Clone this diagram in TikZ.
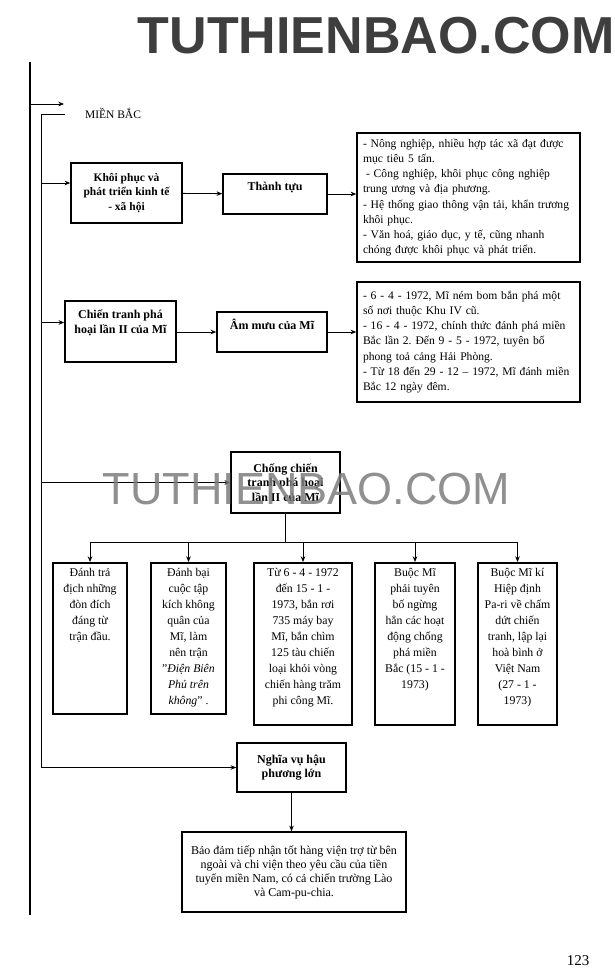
\documentclass[tikz,border=0pt]{standalone}
\usepackage{fontspec}
\setmainfont{Liberation Serif}
\newfontfamily\wmfont{Liberation Sans}
\usetikzlibrary{arrows.meta,positioning,calc}
\frenchspacing
\definecolor{wmgray}{RGB}{125,125,125}
\definecolor{wmdark}{RGB}{62,62,62}
\tikzset{
  box/.style={draw, rectangle, line width=1.5pt, fill=white, align=center, inner sep=2pt},
  hd/.style={box, font=\fontsize{12}{14.5}\selectfont\bfseries},
  txt/.style={box, font=\fontsize{11.6}{15.2}\selectfont, align=left, inner xsep=6pt},
  col/.style={box, inner sep=0pt, font=\fontsize{11.8}{15.9}\selectfont},
  arr/.style={-{Stealth[length=2mm,width=1.6mm]}, line width=0.8pt},
  ln/.style={line width=0.8pt},
  spine/.style={line width=2.4pt},
  wm/.style={font=\wmfont\fontsize{45}{45}\selectfont, text=wmgray, inner sep=0pt},
}

\begin{document}
\begin{tikzpicture}[x=1pt,y=-1pt]
\fill[white] (0,0) rectangle (615,980);
\useasboundingbox (0,0) rectangle (615,980);
\node[inner sep=0pt, text=wmdark, font=\wmfont\bfseries\fontsize{52}{52}\selectfont] (site) at (376,36) {TUTHIENBAO.COM};
\coordinate (ltop) at (30,62);
\coordinate (lbot) at (30,915);
\coordinate (mbarr) at (64,104);
\coordinate (stop) at (65,114);
\coordinate (sp) at (41,114);
\node[font=\fontsize{11.5}{13}\selectfont, inner sep=0pt] (mb) at (113,113) {MIỀN BẮC};
\node[hd, font=\fontsize{11.5}{14.5}\selectfont\bfseries, minimum width=111pt, minimum height=60pt] (kp) at (126.5,193) {Khôi phục và\\phát triển kinh tế\\- xã hội};
\node[hd, text depth=16pt, minimum width=104pt, minimum height=40pt] (tt) at (275,194) {Thành tựu};
\node[txt, text width=211pt, minimum height=129pt] (kq1) at (468.5,197.5) {- Nông nghiệp, nhiều hợp tác xã đạt được\\mục tiêu 5 tấn.\\\hspace*{3pt}- Công nghiệp, khôi phục công nghiệp\\trung ương và địa phương.\\- Hệ thống giao thông vận tải, khẩn trương\\khôi phục.\\- Văn hoá, giáo dục, y tế, cũng nhanh\\chóng được khôi phục và phát triển.};
\node[hd, text depth=20pt, minimum width=111pt, minimum height=61pt] (ct) at (120.5,331.5) {Chiến tranh phá\\hoại lần II của Mĩ};
\node[hd, text depth=15pt, minimum width=110pt, minimum height=40pt] (am) at (272,332) {Âm mưu của Mĩ};
\node[txt, text width=211pt, minimum height=120pt] (kq2) at (468.5,342) {- 6 - 4 - 1972, Mĩ ném bom bắn phá một\\số nơi thuộc Khu IV cũ.\\- 16 - 4 - 1972, chính thức đánh phá miền\\Bắc lần 2. Đến 9 - 5 - 1972, tuyên bố\\phong toả cảng Hải Phòng.\\- Từ 18 đến 29 - 12 – 1972, Mĩ đánh miền\\Bắc 12 ngày đêm.};
\node[hd, minimum width=109pt, minimum height=61pt] (cc) at (285.5,482.5) {Chống chiến\\tranh phá hoại\\lần II của Mĩ};
\foreach \n/\x/\w/\h/\t in {1/90/74/151/{Đánh trả\\địch những\\đòn đích\\đáng từ\\trận đầu.}, 2/188.5/75/151/{Đánh bại\\cuộc tập\\kích không\\quân của\\Mĩ, làm\\nên trận\\"\textit{Điện Biên}\\\textit{Phủ trên}\\\textit{không}" .}, 3/303/98/162/{Từ 6 - 4 - 1972\\đến 15 - 1 -\\1973, bắn rơi\\735 máy bay\\Mĩ, bắn chìm\\125 tàu chiến\\loại khỏi vòng\\chiến hàng trăm\\phi công Mĩ.}, 4/415/80/162/{Buộc Mĩ\\phải tuyên\\bố ngừng\\hẳn các hoạt\\động chống\\phá miền\\Bắc (15 - 1 -\\1973)}, 5/517.5/79/162/{Buộc Mĩ kí\\Hiệp định\\Pa-ri về chấm\\dứt chiến\\tranh, lập lại\\hoà bình ở\\Việt Nam\\(27 - 1 -\\1973)}} {
  \node[col, anchor=north] (c\n) at (\x,562) {\parbox[c][\h pt][t]{\w pt}{\centering\vspace*{6pt}\t}};
}
\node[hd, minimum width=109pt, minimum height=49pt] (nv) at (291.5,767.5) {Nghĩa vụ hậu\\phương lớn};
\node[box, font=\fontsize{12}{14}\selectfont, minimum width=224pt, minimum height=80pt] (bd) at (294,872) {Bảo đảm tiếp nhận tốt hàng viện trợ từ bên\\ngoài và chi viện theo yêu cầu của tiền\\tuyến miền Nam, có cả chiến trường Lào\\và Cam-pu-chia.};
\node[font=\fontsize{15}{15}\selectfont, inner sep=0pt] (pg) at (578,961) {123};
\draw[spine] (ltop) -- (lbot);
\draw[arr] (mbarr -| ltop) -- (mbarr);
\draw[ln] (stop) -- (sp);
\draw[arr] (sp) |- (nv.west);
\draw[arr] ([yshift=10pt]kp.west -| sp) -- ([yshift=10pt]kp.west);
\draw[arr] ([yshift=9pt]ct.west -| sp) -- ([yshift=9pt]ct.west);
\draw[arr] (cc.west -| sp) -- (cc.west);
\draw[arr] (kp) -- (tt); \draw[arr] (tt.east) -- (tt.east -| kq1.west);
\draw[arr] (ct.east |- am) -- (am); \draw[arr] (am.east) -- (am.east -| kq2.west);
\draw[ln] (cc.south) -- ++(0,29) coordinate (bus);
\draw[ln] (c1.north |- bus) -- (c5.north |- bus);
\foreach \n in {1,...,5} \draw[arr] (c\n.north |- bus) -- (c\n.north);
\draw[arr] (nv.south) -- (nv.south |- bd.north);
\node[wm, opacity=0.85] (mark) at (306.5,489.5) {TUTHIENBAO.COM};
\end{tikzpicture}
\end{document}
